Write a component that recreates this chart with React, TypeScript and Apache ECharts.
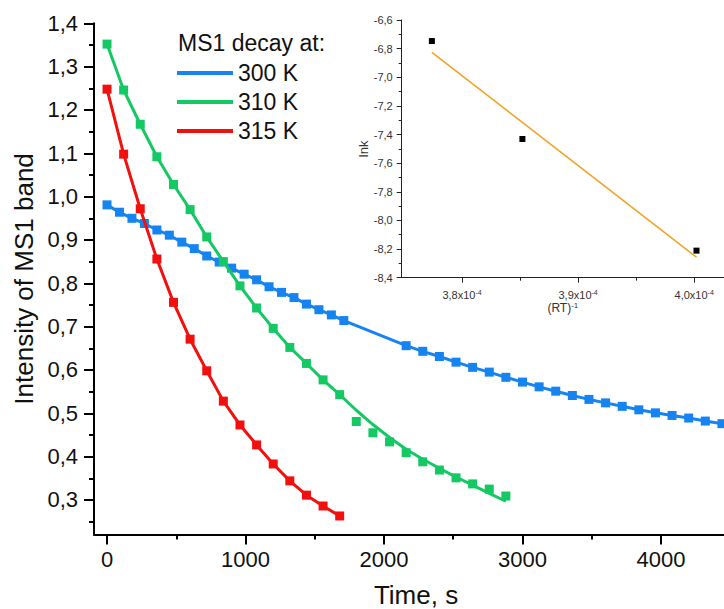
import React, { useEffect, useRef } from 'react';
import * as echarts from 'echarts';

// ---- main chart data ----
const blueTime = [0, 90, 180, 270, 360, 450, 540, 630, 720, 810, 900, 990, 1080, 1170, 1260, 1350, 1440, 1530, 1620, 1710,
  2160, 2280, 2400, 2520, 2640, 2760, 2880, 3000, 3120, 3240, 3360, 3480, 3600, 3720, 3840, 3960, 4080, 4200, 4320, 4440];
const blueValues = [0.981, 0.964, 0.950, 0.938, 0.923, 0.911, 0.895, 0.880, 0.863, 0.849, 0.835, 0.821, 0.808, 0.792, 0.779, 0.767, 0.752, 0.739, 0.727, 0.714,
  0.656, 0.643, 0.631, 0.618, 0.606, 0.595, 0.583, 0.572, 0.561, 0.551, 0.541, 0.532, 0.524, 0.516, 0.508, 0.501, 0.495, 0.489, 0.482, 0.476];

const greenTime = [0, 120, 240, 360, 480, 600, 720, 840, 960, 1080, 1200, 1320, 1440, 1560, 1680,
  1800, 1920, 2040, 2160, 2280, 2400, 2520, 2640, 2760, 2880];
const greenValues = [1.352, 1.246, 1.167, 1.092, 1.028, 0.970, 0.907, 0.850, 0.794, 0.743, 0.696, 0.652, 0.615, 0.577, 0.543,
  0.481, 0.455, 0.434, 0.409, 0.388, 0.369, 0.351, 0.337, 0.325, 0.309];
const greenFitValues = [1.352, 1.246, 1.167, 1.092, 1.028, 0.970, 0.907, 0.850, 0.794, 0.743, 0.696, 0.652, 0.615, 0.577, 0.543,
  0.507, 0.474, 0.444, 0.417, 0.394, 0.373, 0.353, 0.334, 0.315, 0.297];

const redTime = [0, 120, 240, 360, 480, 600, 720, 840, 960, 1080, 1200, 1320, 1440, 1560, 1680];
const redValues = [1.248, 1.098, 0.972, 0.856, 0.756, 0.671, 0.598, 0.528, 0.473, 0.427, 0.383, 0.344, 0.311, 0.286, 0.263];

const xMajorTicks = [0, 1000, 2000, 3000, 4000];
const xMinorTicks = [500, 1500, 2500, 3500];
const yMajorTicks = [0.3, 0.4, 0.5, 0.6, 0.7, 0.8, 0.9, 1.0, 1.1, 1.2, 1.3, 1.4];
const yMinorTicks = [0.25, 0.35, 0.45, 0.55, 0.65, 0.75, 0.85, 0.95, 1.05, 1.15, 1.25, 1.35];

const seriesNames = ['300 K', '310 K', '315 K'];

// ---- inset data ----
const insetX = [3.774e-4, 3.852e-4, 4.002e-4];
const insetY = [-6.747, -7.431, -8.211];
const insetFitX = [3.774e-4, 4.002e-4];
const insetFitY = [-6.826, -8.257];
const insetXMajor = [3.8e-4, 3.9e-4, 4.0e-4];
const insetXMinor = [3.85e-4, 3.95e-4];

const BLUE = '#1684f0';
const GREEN = '#14c864';
const RED = '#f2100f';
const ORANGE = '#f0a428';
const FONT = "'Liberation Sans', Arial, sans-serif";

const fmt = (v: number) => v.toFixed(1).replace('.', ',');
const zip = (xs: number[], ys: number[]) => xs.map((x, i) => [x, ys[i]]);

function buildOption() {
  const mainMin = -94, mainMax = 4455;
  const yMin = 0.22, yMax = 1.4;
  const insetXMin = 3.748e-4, insetXMax = 4.0257e-4;
  const black = { color: '#000', width: 2 };
  const hiddenLine = { show: true, onZero: false, lineStyle: { color: '#000', width: 0, opacity: 0 } };
  return {
    animation: false,
    backgroundColor: '#fff',
    textStyle: { fontFamily: FONT },
    title: {
      text: 'MS1 decay at:',
      left: 178,
      top: 31,
      padding: 0,
      textStyle: { fontSize: 23, fontWeight: 'normal', color: '#111', fontFamily: FONT, lineHeight: 24 },
    },
    legend: {
      data: seriesNames,
      orient: 'vertical',
      left: 177,
      top: 61,
      padding: 0,
      itemGap: 5,
      itemWidth: 56,
      itemHeight: 4,
      icon: 'rect',
      textStyle: { fontSize: 23, color: '#111', fontFamily: FONT, lineHeight: 24 },
    },
    grid: [
      { left: 94, top: 23.3, right: 0, height: 511.3, containLabel: false, outerBoundsMode: 'none' },
      { left: 401.7, top: 20, right: 0, height: 257.7, containLabel: false, outerBoundsMode: 'none' },
    ],
    xAxis: [
      {
        type: 'value', gridIndex: 0, position: 'bottom', min: mainMin, max: mainMax,
        axisLine: { show: true, onZero: false, lineStyle: black },
        axisTick: { show: true, length: 10, lineStyle: black, customValues: xMajorTicks },
        axisLabel: { customValues: xMajorTicks, formatter: (v: number) => String(v), fontSize: 22, color: '#111', margin: 14, fontFamily: FONT },
        splitLine: { show: false },
        name: 'Time, s', nameLocation: 'middle', nameGap: 47,
        nameTextStyle: { fontSize: 26, color: '#111', fontFamily: FONT, padding: [0, 0, 0, 14] },
      },
      {
        type: 'value', gridIndex: 0, position: 'bottom', min: mainMin, max: mainMax,
        axisLine: hiddenLine,
        axisTick: { show: true, length: 5, lineStyle: black, customValues: xMinorTicks },
        axisLabel: { show: false },
        splitLine: { show: false },
      },
      {
        type: 'value', gridIndex: 1, position: 'bottom', min: insetXMin, max: insetXMax,
        axisLine: { show: true, onZero: false, lineStyle: { color: '#222', width: 1 } },
        axisTick: { show: true, length: 5, lineStyle: { color: '#222', width: 1 }, customValues: insetXMajor },
        axisLabel: {
          customValues: insetXMajor, margin: 11, color: '#333', fontSize: 11,
          formatter: (v: number) => `{a|${(v * 1e4).toFixed(1).replace('.', ',')}x10}{s|-4}`,
          rich: {
            a: { fontSize: 11, color: '#333', fontFamily: FONT, lineHeight: 12 },
            s: { fontSize: 7, color: '#333', fontFamily: FONT, verticalAlign: 'top', lineHeight: 8 },
          },
        },
        splitLine: { show: false },
        name: '(RT){s|-1}', nameLocation: 'middle', nameGap: 24,
        nameTextStyle: {
          fontSize: 12, color: '#333', fontFamily: FONT,
          rich: { s: { fontSize: 8, color: '#333', fontFamily: FONT, verticalAlign: 'top', lineHeight: 8 } },
        },
      },
      {
        type: 'value', gridIndex: 1, position: 'bottom', min: insetXMin, max: insetXMax,
        axisLine: hiddenLine,
        axisTick: { show: true, length: 3, lineStyle: { color: '#222', width: 1 }, customValues: insetXMinor },
        axisLabel: { show: false },
        splitLine: { show: false },
      },
    ],
    yAxis: [
      {
        type: 'value', gridIndex: 0, position: 'left', min: yMin, max: yMax,
        axisLine: { show: true, onZero: false, lineStyle: black },
        axisTick: { show: true, length: 10, lineStyle: black, customValues: yMajorTicks },
        axisLabel: { customValues: yMajorTicks, formatter: fmt, fontSize: 22, color: '#111', margin: 16, fontFamily: FONT },
        splitLine: { show: false },
        name: 'Intensity of MS1 band', nameLocation: 'middle', nameGap: 57,
        nameTextStyle: { fontSize: 26, color: '#111', fontFamily: FONT },
      },
      {
        type: 'value', gridIndex: 0, position: 'left', min: yMin, max: yMax,
        axisLine: hiddenLine,
        axisTick: { show: true, length: 5, lineStyle: black, customValues: yMinorTicks },
        axisLabel: { show: false },
        splitLine: { show: false },
      },
      {
        type: 'value', gridIndex: 1, position: 'left', min: -8.4, max: -6.6, interval: 0.2,
        axisLine: { show: true, onZero: false, lineStyle: { color: '#222', width: 1 } },
        axisTick: { show: true, length: 5, lineStyle: { color: '#222', width: 1 } },
        minorTick: { show: true, splitNumber: 2, length: 3, lineStyle: { color: '#222', width: 1 } },
        axisLabel: { formatter: fmt, fontSize: 11, color: '#333', margin: 9, fontFamily: FONT },
        splitLine: { show: false },
        name: 'lnk', nameLocation: 'middle', nameGap: 30,
        nameTextStyle: { fontSize: 13, color: '#333', fontFamily: FONT },
      },
    ],
    series: [
      {
        type: 'line', name: '300 K', xAxisIndex: 0, yAxisIndex: 0,
        data: zip(blueTime, blueValues),
        symbol: 'rect', symbolSize: 9, showSymbol: true,
        lineStyle: { width: 3, color: BLUE }, itemStyle: { color: BLUE }, z: 2,
      },
      {
        type: 'line', name: '310 K fit', xAxisIndex: 0, yAxisIndex: 0,
        data: zip(greenTime, greenFitValues),
        showSymbol: false, symbol: 'none',
        lineStyle: { width: 3, color: GREEN }, itemStyle: { color: GREEN }, z: 3,
      },
      {
        type: 'scatter', name: '310 K', xAxisIndex: 0, yAxisIndex: 0,
        data: zip(greenTime, greenValues),
        symbol: 'rect', symbolSize: 9,
        itemStyle: { color: GREEN, opacity: 1 }, z: 3,
      },
      {
        type: 'line', name: '315 K', xAxisIndex: 0, yAxisIndex: 0,
        data: zip(redTime, redValues),
        symbol: 'rect', symbolSize: 9, showSymbol: true,
        lineStyle: { width: 3, color: RED }, itemStyle: { color: RED }, z: 4,
      },
      {
        type: 'line', name: 'fit', xAxisIndex: 2, yAxisIndex: 2,
        data: zip(insetFitX, insetFitY),
        showSymbol: false, symbol: 'none',
        lineStyle: { width: 1.6, color: ORANGE },
      },
      {
        type: 'scatter', name: 'lnk', xAxisIndex: 2, yAxisIndex: 2,
        data: zip(insetX, insetY),
        symbol: 'rect', symbolSize: 6,
        itemStyle: { color: '#000', opacity: 1 },
      },
    ],
  };
}

export default function App() {
  const ref = useRef<HTMLDivElement>(null);
  useEffect(() => {
    document.body.style.margin = '0';
    const chart = echarts.init(ref.current as HTMLDivElement, null, { renderer: 'svg' });
    chart.setOption(buildOption() as any);
    return () => chart.dispose();
  }, []);
  return (
    <div
      ref={ref}
      style={{ position: 'absolute', left: 0, top: 0, width: 724, height: 609, background: '#fff' }}
    />
  );
}
